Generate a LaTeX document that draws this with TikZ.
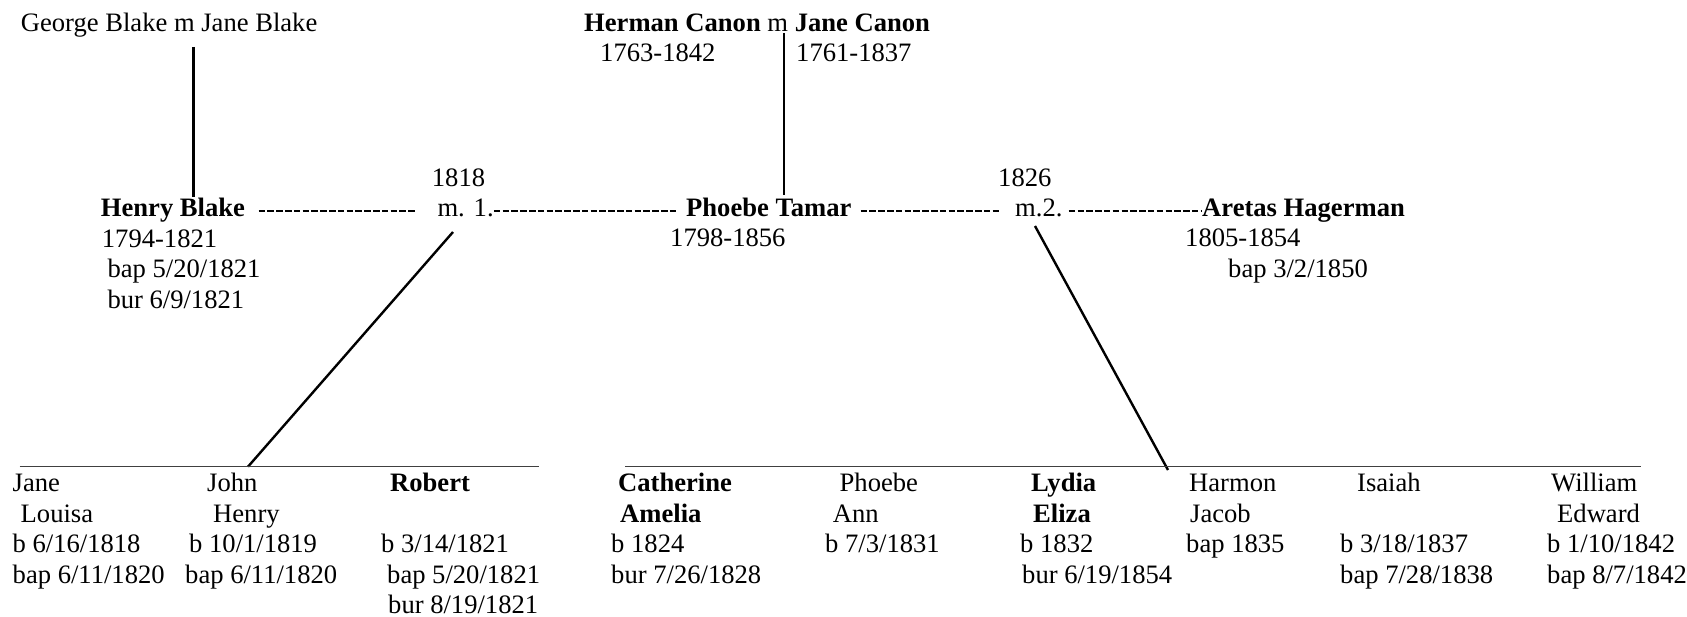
\documentclass[tikz,border=0pt]{standalone}
\usepackage{fontspec}
\setmainfont{Liberation Serif}
\newcommand\treefont{\fontsize{26.6}{30.5}\selectfont}

\begin{document}
\begin{tikzpicture}[
    x=1pt, y=-1pt,
    treetext/.style={anchor=base west, inner sep=0pt, align=left, font=\treefont},
    wedding/.style={treetext, text height=18pt, text depth=6pt},
    spouse/.style={wedding, font=\treefont\bfseries},
    marline/.style={line width=1.7pt, dash pattern=on 6.5pt off 2.3pt},
    kinline/.style={line width=2.4pt},
    sibbar/.style={line width=1pt, black!75}
]
\useasboundingbox (0,0) rectangle (1687,617);

% Grandparents
\node[treetext] (blakes) at (20.7,32) {George Blake m Jane Blake};
\node[treetext] (canons) at (584,32) {\textbf{Herman Canon} m \textbf{Jane Canon}};
\node[treetext] (hermanyrs) at (600,62) {1763-1842};
\node[treetext] (janeyrs) at (796,62) {1761-1837};

% Marriages (multi-line nodes sit on the baseline of their last line)
\node[spouse] (henry) at (100.7,216.7) {Henry Blake};
\node[treetext] (henryinfo) at (101.7,308.3) {1794-1821\\\hspace*{5.6pt}bap 5/20/1821\\\hspace*{5.6pt}bur 6/9/1821};
\node[treetext] (yr1818) at (431.7,186.7) {1818};
\node[wedding] (m1) at (437.3,216.7) {m. 1.};
\node[spouse] (phoebe) at (686,216.7) {Phoebe Tamar};
\node[treetext] (phoebeyrs) at (670,246.7) {1798-1856};
\node[treetext] (yr1826) at (998,186.7) {1826};
\node[wedding] (m2) at (1015,216.7) {m.2.};
\node[spouse] (aretas) at (1202,216.7) {Aretas Hagerman};
\node[treetext] (aretasinfo) at (1185,277.5) {1805-1854\\\hspace*{43pt}bap 3/2/1850};

% Children of first marriage
\node[treetext] (jane) at (12.5,583) {Jane\\\hspace*{8pt}Louisa\\b 6/16/1818\\bap 6/11/1820};
\node[treetext] (john) at (185,583) {\hspace*{22pt}John\\\hspace*{28pt}Henry\\\hspace*{4pt}b 10/1/1819\\bap 6/11/1820};
\node[treetext] (robert) at (381,613.5) {\hspace*{9pt}\textbf{Robert}\\\mbox{}\\b 3/14/1821\\\hspace*{6pt}bap 5/20/1821\\\hspace*{7pt}bur 8/19/1821};

% Children of second marriage
\node[treetext] (catherine) at (611,583) {\hspace*{7pt}\textbf{Catherine}\\\hspace*{9pt}\textbf{Amelia}\\b 1824\\bur 7/26/1828};
\node[treetext] (phoebeann) at (825,552.5) {\hspace*{14.5pt}Phoebe\\\hspace*{7.6pt}Ann\\b 7/3/1831};
\node[treetext] (lydia) at (1020,583) {\hspace*{11pt}\textbf{Lydia}\\\hspace*{13pt}\textbf{Eliza}\\b 1832\\\hspace*{2pt}bur 6/19/1854};
\node[treetext] (harmon) at (1186,552.5) {\hspace*{3pt}Harmon\\\hspace*{4pt}Jacob\\bap 1835};
\node[treetext] (isaiah) at (1340,583) {\hspace*{17pt}Isaiah\\\mbox{}\\b 3/18/1837\\bap 7/28/1838};
\node[treetext] (william) at (1547,583) {\hspace*{4pt}William\\\hspace*{10pt}Edward\\b 1/10/1842\\bap 8/7/1842};

% Line ends
\coordinate (blakesdrop) at (193.5,47);
\coordinate (canonsdrop) at (784,33);
\coordinate (m1drop) at (453,232);
\coordinate (m2drop) at (1035,226);
\coordinate (m1kids) at (248,466.7);
\coordinate (m2kids) at (1168,470);
\coordinate (barAw) at (19.5,466.7);
\coordinate (barAe) at (539,466.7);
\coordinate (barBw) at (625,466.7);
\coordinate (barBe) at (1641,466.7);

% Marriage lines
\draw[marline, shorten <=13.5pt, shorten >=20.6pt] (henry.east) -- (m1.west);
\draw[marline, shorten >=9.3pt] (m1.east) -- (phoebe.west);
\draw[marline, shorten <=9pt, shorten >=16pt] (phoebe.east) -- (m2.west);
\draw[marline, shorten <=6pt] (m2.east) -- (aretas.west);

% Descent
\draw[kinline, shorten >=1pt] (blakesdrop) -- (blakesdrop |- henry.north);
\draw[kinline, shorten >=3pt] (canonsdrop) -- (canonsdrop |- phoebe.north);
\draw[kinline] (m1drop) -- (m1kids);
\draw[kinline] (m2drop) -- (m2kids);
\draw[sibbar] (barAw) -- (barAe);
\draw[sibbar] (barBw) -- (barBe);

\end{tikzpicture}
\end{document}
